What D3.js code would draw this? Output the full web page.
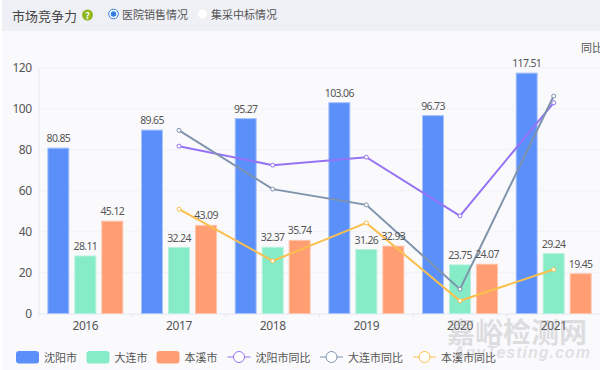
<!DOCTYPE html>
<html>
<head>
<meta charset="utf-8">
<script src="https://cdn.jsdelivr.net/npm/d3@7"></script>
<style>
html, body { margin: 0; padding: 0; background: #fff; overflow: hidden; }
text { font-family: "Noto Sans CJK SC", "Noto Sans", sans-serif; }
</style>
</head>
<body>
<script>
var years = ["2016", "2017", "2018", "2019", "2020", "2021"];
var barNames = ["沈阳市", "大连市", "本溪市"];
var lineNames = ["沈阳市同比", "大连市同比", "本溪市同比"];

var shenyang = [80.85, 89.65, 95.27, 103.06, 96.73, 117.51];
var dalian = [28.11, 32.24, 32.37, 31.26, 23.75, 29.24];
var benxi = [45.12, 43.09, 35.74, 32.93, 24.07, 19.45];

// year on year lines start in 2017
var lineYears = ["2017", "2018", "2019", "2020", "2021"];
var shenyangYoy = [81.8, 72.5, 76.4, 47.7, 103];
var dalianYoy = [89.5, 60.8, 53.1, 11.9, 106.3];
var benxiYoy = [51, 25.7, 44.3, 6.2, 21.5];

var yTicks = [0, 20, 40, 60, 80, 100, 120];

var barColors = ["#5b8ff9", "#86ebc7", "#ff9d73"];
var barBorders = ["#a9c4fb", "#b5f2dc", "#ffc4ab"];
var lineColors = ["#9673f5", "#7f93ad", "#fbbf4e"];

var margin = { top: 68, left: 38.5, bottom: 313.5 };

var svg = d3.select("body").append("svg").attr("width", 600).attr("height", 370);

// backgrounds
svg.append("rect").attr("x", 2).attr("y", 0).attr("width", 598).attr("height", 370).attr("fill", "#fafafd");
svg.append("rect").attr("x", 2).attr("y", 0).attr("width", 598).attr("height", 31).attr("fill", "#eff0f5");

// header
svg.append("text").attr("x", 12).attr("y", 20.5).attr("font-size", 13).attr("fill", "#444").text("市场竞争力");
svg.append("circle").attr("cx", 87.5).attr("cy", 15).attr("r", 5.5).attr("fill", "#8fb81e");
svg.append("text").attr("x", 87.5).attr("y", 18.5).attr("text-anchor", "middle").attr("font-size", 9).attr("font-weight", "bold").attr("fill", "#fff").text("?");
svg.append("circle").attr("cx", 113.5).attr("cy", 14).attr("r", 4.8).attr("fill", "#fff").attr("stroke", "#2f7de1").attr("stroke-width", 1);
svg.append("circle").attr("cx", 113.5).attr("cy", 14).attr("r", 2.7).attr("fill", "#2f7de1");
svg.append("text").attr("x", 122).attr("y", 18.5).attr("font-size", 11).attr("fill", "#555").text("医院销售情况");
svg.append("circle").attr("cx", 202.5).attr("cy", 14).attr("r", 5).attr("fill", "#fff").attr("stroke", "#f0f0f3");
svg.append("text").attr("x", 211).attr("y", 18.5).attr("font-size", 11).attr("fill", "#555").text("集采中标情况");

var x0 = d3.scaleBand().domain(years).range([38.5, 600.5]);
var x1 = d3.scaleBand().domain(barNames).range([0, x0.bandwidth()]).paddingInner(0.222).paddingOuter(0.346);
var y = d3.scaleLinear().domain([0, 120]).range([margin.bottom, margin.top]);

// grid lines
svg.append("g").selectAll("line").data(yTicks.slice(1)).join("line")
  .attr("x1", 38.5).attr("x2", 600)
  .attr("y1", function (d) { return y(d); }).attr("y2", function (d) { return y(d); })
  .attr("stroke", "#f1f2f6");

// axes
var yAxis = d3.axisLeft(y).tickValues(yTicks).tickSize(0).tickPadding(7);
var yG = svg.append("g").attr("transform", "translate(38.5,0)").call(yAxis);
yG.select(".domain").attr("stroke", "#e3e8f2");
yG.selectAll("text").attr("font-size", 12).attr("fill", "#555").style("font-family", '"Noto Sans", sans-serif').style("letter-spacing", "-0.5px");

var xAxis = d3.axisBottom(x0).tickSize(0).tickPadding(8);
var xG = svg.append("g").attr("transform", "translate(0," + margin.bottom + ")").call(xAxis);
xG.select(".domain").attr("stroke", "#e3e8f2");
xG.selectAll("text").attr("font-size", 12).attr("fill", "#555").style("font-family", '"Noto Sans", sans-serif').style("letter-spacing", "-0.4px");
svg.append("g").selectAll("line").data(years).join("line")
  .attr("x1", function (d) { return x0(d); }).attr("x2", function (d) { return x0(d); })
  .attr("y1", margin.bottom).attr("y2", margin.bottom + 4).attr("stroke", "#e3e8f2");

svg.append("text").attr("x", 581).attr("y", 52).attr("font-size", 11).attr("fill", "#555").text("同比");

// bars
var barSeries = [shenyang, dalian, benxi];
barSeries.forEach(function (values, s) {
  svg.append("g").selectAll("rect").data(values).join("rect")
    .attr("x", function (d, i) { return x0(years[i]) + x1(barNames[s]); })
    .attr("y", function (d) { return y(d); })
    .attr("width", x1.bandwidth())
    .attr("height", function (d) { return y(0) - y(d); })
    .attr("fill", barColors[s])
    .attr("stroke", barBorders[s]);
});

// lines
var lineSeries = [shenyangYoy, dalianYoy, benxiYoy];
lineSeries.forEach(function (values, s) {
  var line = d3.line()
    .x(function (d, i) { return x0(lineYears[i]) + x0.bandwidth() / 2; })
    .y(function (d) { return y(d); });
  svg.append("path").datum(values).attr("d", line)
    .attr("fill", "none").attr("stroke", lineColors[s]).attr("stroke-width", 2);
  svg.append("g").selectAll("circle").data(values).join("circle")
    .attr("cx", function (d, i) { return x0(lineYears[i]) + x0.bandwidth() / 2; })
    .attr("cy", function (d) { return y(d); })
    .attr("r", 2)
    .attr("fill", "#fff")
    .attr("stroke", lineColors[s])
    .attr("stroke-width", 1);
});

// bar labels go above the lines
barSeries.forEach(function (values, s) {
  svg.append("g").selectAll("text").data(values).join("text")
    .attr("x", function (d, i) { return x0(years[i]) + x1(barNames[s]) + x1.bandwidth() / 2; })
    .attr("y", function (d) { return y(d) - 6; })
    .attr("text-anchor", "middle")
    .attr("font-size", 10.5)
    .attr("fill", "#555")
    .style("font-family", '"Noto Sans", sans-serif')
    .style("letter-spacing", "-0.65px")
    .text(function (d) { return d.toFixed(2); });
});

// legend
var barLegendX = d3.scaleOrdinal().domain(barNames).range([16, 86.5, 156.5]);
barNames.forEach(function (name, s) {
  var lx = barLegendX(name);
  svg.append("rect").attr("x", lx).attr("y", 351).attr("width", 23).attr("height", 12.5).attr("rx", 3).attr("fill", barColors[s]);
  svg.append("text").attr("x", lx + 28).attr("y", 361.5).attr("font-size", 11).attr("fill", "#555").text(name);
});
var lineLegendX = d3.scaleOrdinal().domain(lineNames).range([227.5, 320, 413]);
lineNames.forEach(function (name, s) {
  var lx = lineLegendX(name);
  svg.append("line").attr("x1", lx).attr("x2", lx + 23).attr("y1", 357).attr("y2", 357).attr("stroke", lineColors[s]).attr("stroke-width", 1);
  svg.append("circle").attr("cx", lx + 11.5).attr("cy", 357).attr("r", 5.5).attr("fill", "#fff").attr("stroke", lineColors[s]).attr("stroke-width", 1);
  svg.append("text").attr("x", lx + 28).attr("y", 361.5).attr("font-size", 11).attr("fill", "#555").text(name);
});

// watermark
svg.append("text").attr("x", 447).attr("y", 343).attr("font-size", 28).attr("font-weight", "bold").attr("fill", "#8a8a8a").attr("opacity", 0.25).text("嘉峪检测网");
svg.append("text").attr("x", 453).attr("y", 358).attr("font-size", 16).attr("font-style", "italic").attr("font-weight", "bold").attr("fill", "#8a8a8a").attr("opacity", 0.22).style("font-family", '"Liberation Sans", sans-serif').style("letter-spacing", "1px").text("AnyTesting.com");
</script>
</body>
</html>
